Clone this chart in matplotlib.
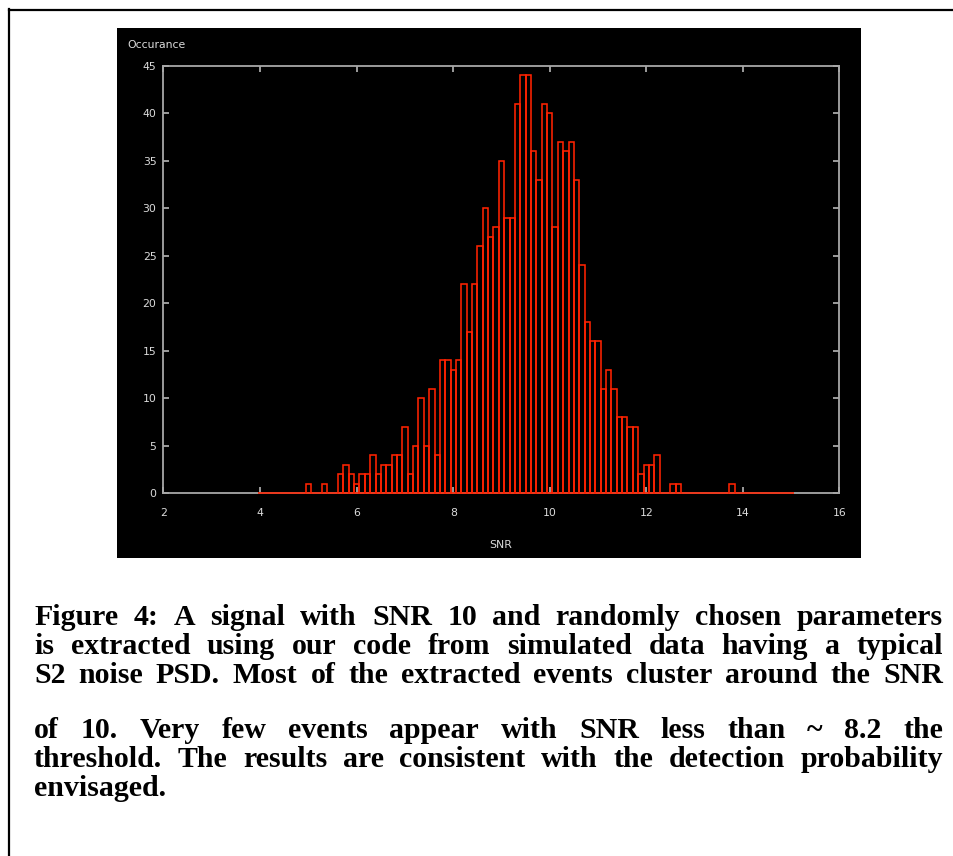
import numpy as np
import matplotlib
matplotlib.use('Agg')
import matplotlib.pyplot as plt
from matplotlib.patches import Rectangle
from matplotlib.lines import Line2D

# histogram of recovered SNR, 100 bins between snr_lo and snr_hi
snr_lo = 3.95
snr_hi = 15.05
counts = [0, 0, 0, 0, 0, 0, 0, 0, 0,
          1, 0, 0, 1, 0, 0,
          2, 3, 2, 1, 2, 2, 4, 2, 3, 3, 4, 4, 7, 2, 5, 10, 5, 11, 4,
          14, 14, 13, 14,
          22, 17, 22,
          26, 30, 27, 28, 35, 29, 29, 41, 44, 44, 36, 33, 41, 40, 28, 37, 36, 37, 33,
          24, 18, 16, 16, 11, 13, 11, 8, 8, 7, 7, 2, 3, 3, 4,
          0, 0, 1, 1,
          0, 0, 0, 0, 0, 0, 0, 0, 0,
          1,
          0, 0, 0, 0, 0, 0, 0, 0, 0, 0, 0]
xticks = [2, 4, 6, 8, 10, 12, 14, 16]
yticks = [0, 5, 10, 15, 20, 25, 30, 35, 40, 45]
xlabel = 'SNR'
ylabel = 'Occurance'

caption = [
    'Figure 4: A signal with SNR 10 and randomly chosen parameters',
    'is extracted using our code from simulated data having a typical',
    'S2 noise PSD. Most of the extracted events cluster around the SNR',
    'of 10. Very few events appear with SNR less than ~ 8.2 the',
    'threshold. The results are consistent with the detection probability',
    'envisaged.',
]
caption_base = [625, 654, 683, 738, 767, 796]  # baselines, px from top

W, H = 954, 856
fig = plt.figure(figsize=(W / 100, H / 100), dpi=100)
fig.patch.set_facecolor('white')

def fx(px):
    return px / W

def fy(py):
    return 1 - py / H

# page frame (top + left)
fig.add_artist(Line2D([fx(9), 1], [fy(9.5), fy(9.5)], color='black', lw=1.6))
fig.add_artist(Line2D([fx(9.5), fx(9.5)], [fy(9), 0], color='black', lw=1.6))

# black screenshot background
fig.add_artist(Rectangle((fx(117), fy(558)), fx(861) - fx(117), fy(28) - fy(558),
                         facecolor='black', edgecolor='none', zorder=0))

ax = fig.add_axes([fx(163.5), fy(493), fx(839.5) - fx(163.5), fy(66) - fy(493)])
ax.set_facecolor('black')

edges = np.linspace(snr_lo, snr_hi, len(counts) + 1)
ax.bar(edges[:-1], counts, width=np.diff(edges), align='edge', fill=False,
       edgecolor='#ff2200', linewidth=1.15, zorder=3, clip_on=False)

ax.set_xlim(2, 16)
ax.set_ylim(0, 45)
ax.set_xticks(xticks)
ax.set_yticks(yticks)
gray = '#a8a8a8'
for s in ax.spines.values():
    s.set_color(gray)
    s.set_linewidth(1.3)
ax.tick_params(direction='in', length=4, width=1.3, color=gray,
               top=True, right=True, labelcolor='#dcdcdc', labelsize=7.8)
ax.tick_params(axis='x', pad=11)
ax.tick_params(axis='y', pad=5)

fig.text(fx(157), fy(45.5), ylabel, color='#dcdcdc', fontsize=7.8,
         ha='center', va='center')
fig.text(fx(501), fy(545.5), xlabel, color='#dcdcdc', fontsize=7.8,
         ha='center', va='center')

# justified caption
cap_kw = dict(family='Liberation Serif', weight='bold', fontsize=21.5, color='black',
              va='baseline', ha='left')
x0, x1 = 34, 943
fig.canvas.draw()
renderer = fig.canvas.get_renderer()
m1 = fig.text(0, 0, 'a a', **cap_kw)
m2 = fig.text(0, 0, 'aa', **cap_kw)
space = m1.get_window_extent(renderer).width - m2.get_window_extent(renderer).width
m1.remove()
m2.remove()
for i, (line, base) in enumerate(zip(caption, caption_base)):
    words = line.split()
    texts = [fig.text(0, fy(base), w, **cap_kw) for w in words]
    widths = [t.get_window_extent(renderer).width for t in texts]
    if i == len(caption) - 1:
        gap = space
    else:
        gap = (x1 - x0 - sum(widths)) / (len(words) - 1)
    x = x0
    for t, w in zip(texts, widths):
        t.set_x(fx(x))
        x += w + gap

fig.savefig('out.png', dpi=100)
